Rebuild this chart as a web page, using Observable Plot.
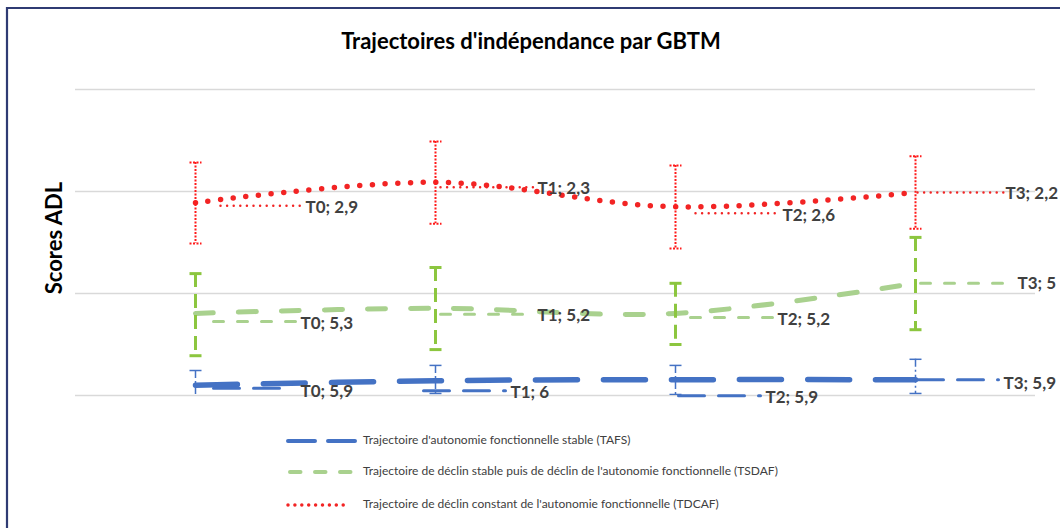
<!DOCTYPE html>
<html><head><meta charset="utf-8">
<script src="https://cdn.jsdelivr.net/npm/d3@7"></script>
<script src="https://cdn.jsdelivr.net/npm/@observablehq/plot@0.6"></script>
<style>body{margin:0;background:#fff;} #chart{width:1060px;height:528px;overflow:hidden;}</style>
</head><body><div id="chart"></div>
<script>
// ---------- data ----------
const times = ["T0", "T1", "T2", "T3"];
const yTicks = [0, 2, 4, 6];
const chartTitle = "Trajectoires d'indépendance par GBTM";
const yLabel = "Scores ADL";
const seriesNames = [
  "Trajectoire d'autonomie fonctionnelle stable (TAFS)",
  "Trajectoire de déclin stable puis de déclin de l'autonomie fonctionnelle (TSDAF)",
  "Trajectoire de déclin constant de l'autonomie fonctionnelle (TDCAF)"
];
const tafs      = [5.80, 5.71, 5.69, 5.69];
const tafsLo    = [5.51, 5.41, 5.41, 5.29];
const tafsHi    = [6.08, 5.96, 5.98, 5.96];
const tafsText  = ["T0; 5,9", "T1; 6", "T2; 5,9", "T3; 5,9"];
const tsdaf     = [4.39, 4.29, 4.39, 3.80];
const tsdafLo   = [3.61, 3.49, 3.80, 2.90];
const tsdafHi   = [5.22, 5.10, 5.00, 4.71];
const tsdafText = ["T0; 5,3", "T1; 5,2", "T2; 5,2", "T3; 5"];
const tdcaf     = [2.22, 1.82, 2.30, 2.02];
const tdcafLo   = [1.43, 1.02, 1.49, 1.31];
const tdcafHi   = [3.02, 2.63, 3.12, 2.73];
const tdcafText = ["T0; 2,9", "T1; 2,3", "T2; 2,6", "T3; 2,2"];

// ---------- layout (pixels) ----------
const W = 1060, H = 528;
const M = {top: 89, right: 25, bottom: 133, left: 75};
const XU = (W - M.left - M.right) / times.length; // px per category step
const YU = (H - M.top - M.bottom) / (yTicks[yTicks.length - 1] - yTicks[0]); // px per unit
// label placement offsets relative to the point: [textDx, textDy, leadX1, leadX2, leadDy]
const place = {
  tafs:  [[105, 6, 18, 95, 3], [75, 12, -12, 70, 10], [90, 18, 3, 85, 16], [88, 4, 2, 83, 0]],
  tsdaf: [[105, 10, 18, 100, 8], [102, 7, 5, 97, 6], [102, 6, 15, 100, 4], [102, 0, 5, 97, 0]],
  tdcaf: [[110, 5, 25, 108, 3], [102, 6, 5, 100, 5], [107, 8.5, 20, 105, 6.5], [90, 1, 2, 88, 0]]
};
const styles = {
  tafs:  {color: "#4472C4", w: 5.5, dash: "42,26", lw: 3, ldash: "26,14", ec: "#4472C4", ew: 1.5, edash: "8,3,2,3"},
  tsdaf: {color: "#A9D18E", w: 5, dash: "18,25", lw: 3, ldash: "10,14", ec: "#8CC63F", ew: 3, edash: "14,7"},
  tdcaf: {color: "#F22424", w: 5.5, dash: "0,12.7", lw: 2.5, ldash: "0,6.6", ec: "#FF1A1A", ew: 2, edash: "2,1.5"}
};
const series = [
  {key: "tafs", v: tafs, lo: tafsLo, hi: tafsHi, text: tafsText},
  {key: "tsdaf", v: tsdaf, lo: tsdafLo, hi: tsdafHi, text: tsdafText},
  {key: "tdcaf", v: tdcaf, lo: tdcafLo, hi: tdcafHi, text: tdcafText}
];
const rowsOf = s => times.map((t, i) => ({
  i, t, v: s.v[i], lo: s.lo[i], hi: s.hi[i], label: s.text[i], p: place[s.key][i]
}));

const capSymbol = {
  draw(ctx, size) { const w = Math.sqrt(size / Math.PI); ctx.moveTo(-w, 0); ctx.lineTo(w, 0); }
};

const marks = [Plot.ruleY(yTicks, {stroke: "#D9D9D9", strokeWidth: 1.5})];
for (const s of series) {
  const st = styles[s.key], rows = rowsOf(s);
  marks.push(
    Plot.line(rows, {x: "i", y: "v", curve: "cardinal", tension: 0, stroke: st.color,
      strokeWidth: st.w, strokeDasharray: st.dash, strokeLinecap: "round"}),
    Plot.link(rows, {x1: d => d.i + d.p[2] / XU, x2: d => d.i + d.p[3] / XU,
      y1: d => d.v + d.p[4] / YU, y2: d => d.v + d.p[4] / YU,
      stroke: st.color, strokeWidth: st.lw, strokeDasharray: st.ldash, strokeLinecap: "round"})
  );
}
for (const s of series) {
  const st = styles[s.key], rows = rowsOf(s);
  const capDash = s.key === "tdcaf" ? st.edash : null;
  marks.push(
    Plot.ruleX(rows, {x: "i", y1: "lo", y2: "hi", stroke: st.ec, strokeWidth: st.ew,
      strokeDasharray: st.edash, clip: true}),
    Plot.dot(rows, {x: "i", y: "lo", symbol: capSymbol, r: 6, fill: "none", stroke: st.ec,
      strokeWidth: st.ew, strokeDasharray: capDash, clip: true}),
    Plot.dot(rows, {x: "i", y: "hi", symbol: capSymbol, r: 6, fill: "none", stroke: st.ec,
      strokeWidth: st.ew, strokeDasharray: capDash, clip: true})
  );
}
for (const s of series) {
  const rows = rowsOf(s);
  marks.push(Plot.text(rows, {x: d => d.i + d.p[0] / XU, y: d => d.v + d.p[1] / YU, text: "label",
    textAnchor: "start", lineAnchor: "middle", fontSize: 17, fontWeight: "bold",
    fill: "#404040", fontFamily: "Lato"}));
}

const chart = Plot.plot({
  width: W, height: H,
  marginTop: M.top, marginRight: M.right, marginBottom: M.bottom, marginLeft: M.left,
  style: {fontFamily: "Lato", background: "white", overflow: "visible"},
  x: {domain: [-0.5, times.length - 0.5], axis: null},
  y: {domain: [yTicks[0], yTicks[yTicks.length - 1]], reverse: true, axis: null},
  marks
});
document.getElementById("chart").appendChild(chart);

// ---------- title, axis label, legend, border ----------
const svg = d3.select(chart);
svg.append("text").attr("x", 531).attr("y", 43).attr("text-anchor", "middle")
  .attr("dominant-baseline", "middle").attr("font-family", "Lato").attr("font-weight", "bold")
  .attr("font-size", 22).attr("fill", "#000").text(chartTitle);
svg.append("text").attr("transform", "translate(56,238) rotate(-90)").attr("text-anchor", "middle")
  .attr("dominant-baseline", "middle").attr("font-family", "Lato").attr("font-weight", "bold")
  .attr("font-size", 22).attr("fill", "#000").text(yLabel);

const legendRows = [
  {y: 441, st: {color: styles.tafs.color, w: 4, dash: "27,13", x1: 288, x2: 355}},
  {y: 472, st: {color: styles.tsdaf.color, w: 4, dash: "10.5,14.5", x1: 290, x2: 353}},
  {y: 505, st: {color: styles.tdcaf.color, w: 3.5, dash: "0,6.9", x1: 288, x2: 350}}
];
legendRows.forEach((r, k) => {
  svg.append("line").attr("x1", r.st.x1).attr("x2", r.st.x2).attr("y1", r.y).attr("y2", r.y)
    .attr("stroke", r.st.color).attr("stroke-width", r.st.w).attr("stroke-dasharray", r.st.dash)
    .attr("stroke-linecap", "round");
  svg.append("text").attr("x", 363).attr("y", r.y).attr("text-anchor", "start")
    .attr("dominant-baseline", "middle")
    .attr("font-family", "Lato").attr("font-size", 12).attr("fill", "#404040").text(seriesNames[k]);
});
svg.append("path").attr("d", `M7,${H + 2} L7,8 L${W + 2},8`).attr("fill", "none")
  .attr("stroke", "#2F3B73").attr("stroke-width", 2.2);
</script></body></html>
